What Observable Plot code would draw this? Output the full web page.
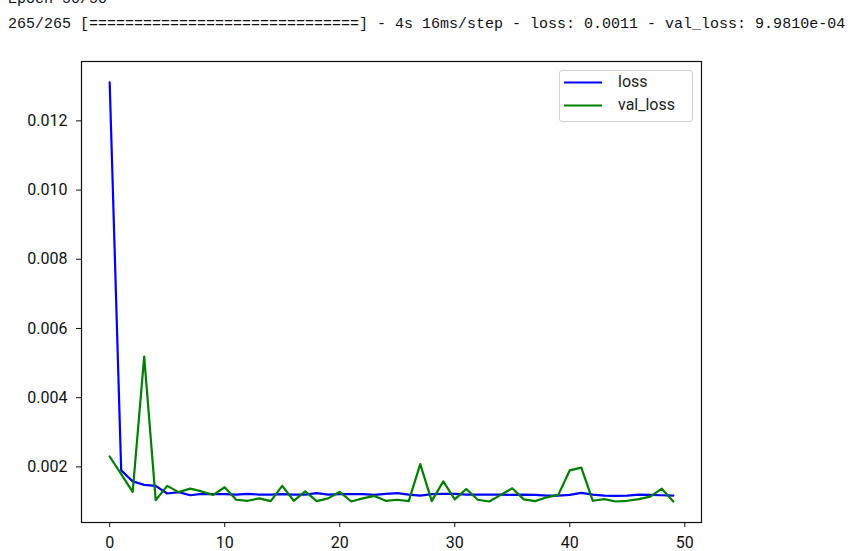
<!DOCTYPE html>
<html>
<head>
<meta charset="utf-8">
<script src="https://cdn.jsdelivr.net/npm/d3@7"></script>
<script src="https://cdn.jsdelivr.net/npm/@observablehq/plot@0.6"></script>
<style>
  html, body { margin: 0; padding: 0; background: #fff; }
  body { position: relative; width: 857px; height: 551px; overflow: hidden; }
  .log { position: absolute; left: 8px; font-family: "Liberation Mono", "DejaVu Sans Mono", monospace; font-size: 15px; line-height: 15px; color: #111; white-space: pre; }
  #chart { position: absolute; left: 0; top: 40px; }
  #legend { position: absolute; left: 559px; top: 70px; width: 132px; height: 50px; border: 1px solid #d0d0d0; border-radius: 3px; background: rgba(255,255,255,0.85); font-family: Roboto, "Noto Sans", sans-serif; font-size: 16px; color: #222; }
  #legend .row { position: absolute; left: 4px; height: 20px; }
  #legend .row svg { position: absolute; left: 0; top: 0; }
  #legend .row span { position: absolute; left: 54px; top: 0; line-height: 20px; }
</style>
</head>
<body>
<div class="log" id="log1" style="top:-8px"></div>
<div class="log" id="log2" style="top:17px"></div>
<div id="chart"></div>
<div id="legend"></div>
<script>
// ---- data ----
const logLines = [
  "Epoch 50/50",
  "265/265 [==============================] - 4s 16ms/step - loss: 0.0011 - val_loss: 9.9810e-04"
];
const seriesNames = ["loss", "val_loss"];
const seriesColors = ["#0000ff", "#008000"];
const loss = [0.01311, 0.00190, 0.00158, 0.00148, 0.00145, 0.00123, 0.00127, 0.00118, 0.00122, 0.00121,
              0.00121, 0.00120, 0.00122, 0.00120, 0.00120, 0.00121, 0.00120, 0.00120, 0.00124, 0.00120,
              0.00121, 0.00121, 0.00121, 0.00119, 0.00122, 0.00124, 0.00120, 0.00117, 0.00121, 0.00122,
              0.00122, 0.00120, 0.00120, 0.00120, 0.00120, 0.00119, 0.00120, 0.00119, 0.00117, 0.00117,
              0.00119, 0.00125, 0.00120, 0.00117, 0.00116, 0.00117, 0.00120, 0.00119, 0.00118, 0.00117];
const valLoss = [0.00230, 0.00179, 0.00128, 0.00519, 0.00104, 0.00145, 0.00127, 0.00137, 0.00129, 0.00119,
                 0.00141, 0.00105, 0.00102, 0.00109, 0.00101, 0.00145, 0.00102, 0.00129, 0.00101, 0.00109,
                 0.00128, 0.00100, 0.00109, 0.00116, 0.00102, 0.00105, 0.00101, 0.00208, 0.00101, 0.00158,
                 0.00106, 0.00136, 0.00105, 0.00100, 0.00119, 0.00138, 0.00106, 0.00101, 0.00112, 0.00119,
                 0.00190, 0.00198, 0.00102, 0.00107, 0.00100, 0.00102, 0.00107, 0.00114, 0.00137, 0.000998];
const xTicks = [0, 10, 20, 30, 40, 50];
const yTicks = [0.002, 0.004, 0.006, 0.008, 0.010, 0.012];

// ---- build table ----
const rows = [];
[loss, valLoss].forEach((arr, s) => arr.forEach((v, i) => rows.push({epoch: i, value: v, series: seriesNames[s]})));

document.getElementById("log1").textContent = logLines[0];
document.getElementById("log2").textContent = logLines[1];

const n = loss.length - 1;
const all = loss.concat(valLoss);
const ymin = d3.min(all), ymax = d3.max(all);
const xpad = n * 0.05, ypad = (ymax - ymin) * 0.05;

const chart = Plot.plot({
  width: 857,
  height: 511,
  marginLeft: 81,
  marginRight: 156,
  marginTop: 21,
  marginBottom: 29,
  style: {fontFamily: "Roboto, 'Noto Sans', sans-serif", fontSize: "16px", color: "#111", background: "#fff"},
  x: {domain: [-xpad, n + xpad]},
  y: {domain: [ymin - ypad, ymax + ypad]},
  color: {domain: seriesNames, range: seriesColors},
  marks: [
    Plot.axisX({ticks: xTicks, tickSize: 5, tickPadding: 9, label: null, tickFormat: d3.format("d"), stroke: "#111"}),
    Plot.axisY({ticks: yTicks, tickSize: 5, tickPadding: 9, label: null, tickFormat: d3.format(".3f"), stroke: "#111"}),
    Plot.lineY(rows, {x: "epoch", y: "value", z: "series", stroke: "series", strokeWidth: 2.2}),
    Plot.frame({stroke: "#111", strokeWidth: 1.2})
  ]
});
document.getElementById("chart").appendChild(chart);

// ---- legend ----
const legend = document.getElementById("legend");
seriesNames.forEach((name, i) => {
  const row = document.createElement("div");
  row.className = "row";
  row.style.top = (i === 0 ? 1 : 24) + "px";
  row.innerHTML = `<svg width="40" height="20"><line x1="0" x2="38" y1="10.5" y2="10.5" stroke="${seriesColors[i]}" stroke-width="2.2"/></svg><span>${name}</span>`;
  legend.appendChild(row);
});
</script>
</body>
</html>
